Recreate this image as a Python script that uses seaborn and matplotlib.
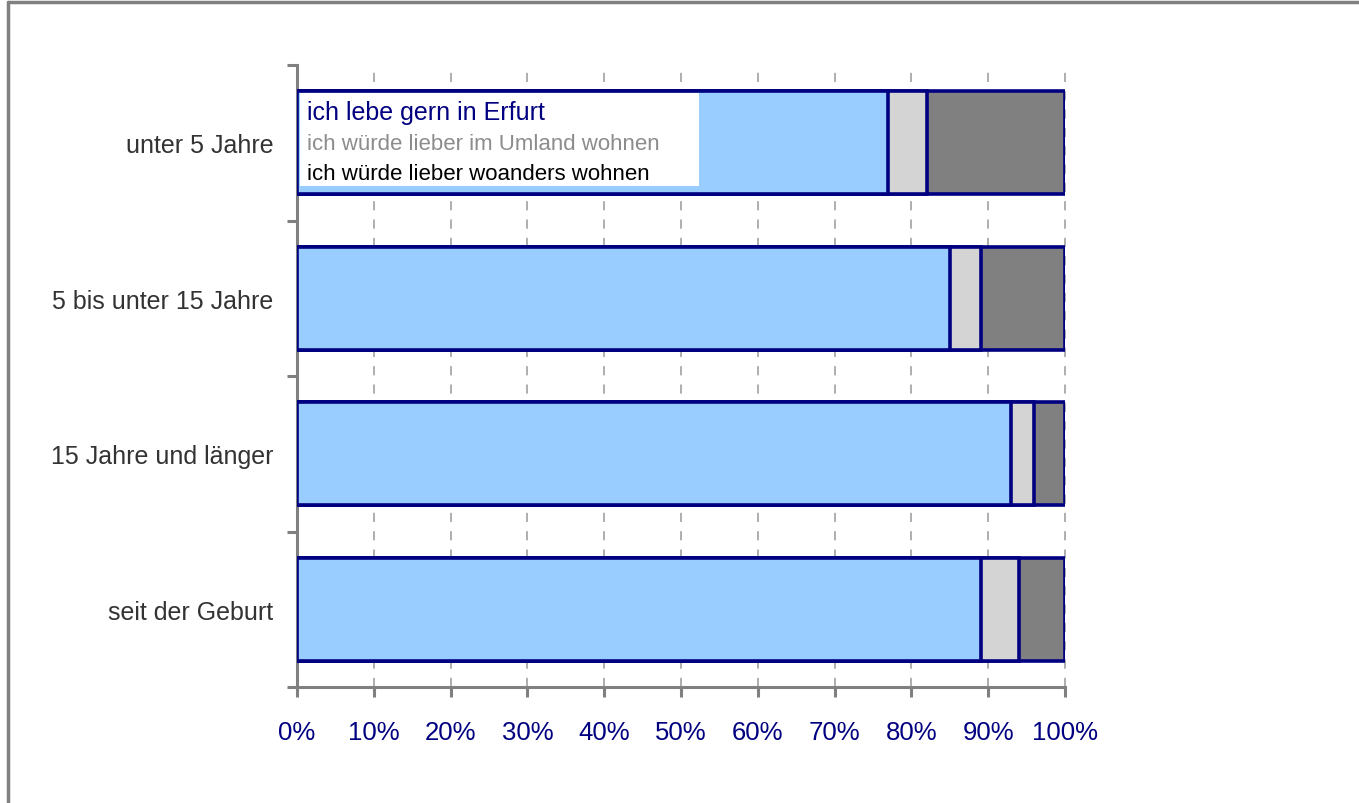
import matplotlib
matplotlib.use("Agg")
import matplotlib.pyplot as plt
import seaborn as sns
import pandas as pd
import numpy as np
from matplotlib.lines import Line2D
from matplotlib.patches import Rectangle
from matplotlib.ticker import FixedLocator, FuncFormatter

categories = ["unter 5 Jahre", "5 bis unter 15 Jahre", "15 Jahre und länger", "seit der Geburt"]
gern_erfurt = [77, 85, 93, 89]
lieber_umland = [5, 4, 3, 5]
lieber_woanders = [18, 11, 4, 6]
series_names = ["ich lebe gern in Erfurt", "ich würde lieber im Umland wohnen",
                "ich würde lieber woanders wohnen"]
x_ticks = list(range(0, 101, 10))

sns.set_theme(style="white")
plt.rcParams["font.family"] = ["Liberation Sans", "DejaVu Sans"]

fig = plt.figure(figsize=(13.59, 8.04), dpi=100)
ax = fig.add_axes([297 / 1359, 1 - 688 / 804, (1065 - 297) / 1359, (688 - 66) / 804])

df = pd.DataFrame({
    "cat": categories,
    "c1": gern_erfurt,
    "c2": np.array(gern_erfurt) + np.array(lieber_umland),
    "c3": np.array(gern_erfurt) + np.array(lieber_umland) + np.array(lieber_woanders),
})

navy = "#000080"
colors = ["#99CCFF", "#D4D4D4", "#808080"]
for col, c in zip(["c3", "c2", "c1"], colors[::-1]):
    sns.barplot(data=df, x=col, y="cat", orient="h", color=c, saturation=1,
                edgecolor=navy, linewidth=2.6, width=0.66, ax=ax, zorder=3)

ax.set_xlim(0, 100)
ax.set_ylim(3.5, -0.5)
ax.set_xlabel("")
ax.set_ylabel("")

# grid
ax.xaxis.set_major_locator(FixedLocator(x_ticks))
ax.xaxis.set_major_formatter(FuncFormatter(lambda v, p: f"{int(v)}%"))
for v in x_ticks[1:]:
    ax.axvline(v, color="#999999", lw=1.1, ls=(0, (6, 6)), zorder=1, clip_on=False)

for s in ["top", "right"]:
    ax.spines[s].set_visible(False)
for s in ["left", "bottom"]:
    ax.spines[s].set_color("#808080")
    ax.spines[s].set_linewidth(2.2)

ax.tick_params(axis="x", which="major", direction="out", length=7, width=2.2,
               color="#808080", labelcolor=navy, labelsize=18.5, pad=17, bottom=True)
ax.set_yticks(range(len(categories)))
ax.set_yticklabels(categories)
ax.set_yticks(np.arange(-0.5, 4.0, 1.0), minor=True)
ax.tick_params(axis="y", which="major", length=0, labelcolor="#333333", labelsize=18, pad=17)
ax.tick_params(axis="y", which="minor", direction="out", length=7, width=2.2,
               color="#808080", left=True)

# legend box (white background) and legend
ax.add_patch(Rectangle((0.4, -0.318), 51.9, 0.596, facecolor="white", edgecolor="none",
                       zorder=9))
handles = [plt.Rectangle((0, 0), 0, 0, fc="none", ec="none") for _ in series_names]
leg = ax.legend(handles, series_names, loc="upper left", bbox_to_anchor=(0.013, 0.944),
                frameon=False, handlelength=0, handletextpad=0, borderpad=0,
                labelspacing=0.42, fontsize=16, borderaxespad=0)
leg.set_zorder(10)
for t, c, fs in zip(leg.get_texts(), [navy, "#8C8C8C", "black"], [18, 16, 16]):
    t.set_color(c)
    t.set_fontsize(fs)

# figure border (top and left)
fig.add_artist(Line2D([8 / 1359, 1], [1 - 3 / 804, 1 - 3 / 804], color="#808080", lw=2.5,
                      transform=fig.transFigure))
fig.add_artist(Line2D([8 / 1359, 8 / 1359], [0, 1 - 3 / 804], color="#808080", lw=2.5,
                      transform=fig.transFigure))

fig.savefig("out.png", dpi=100)
